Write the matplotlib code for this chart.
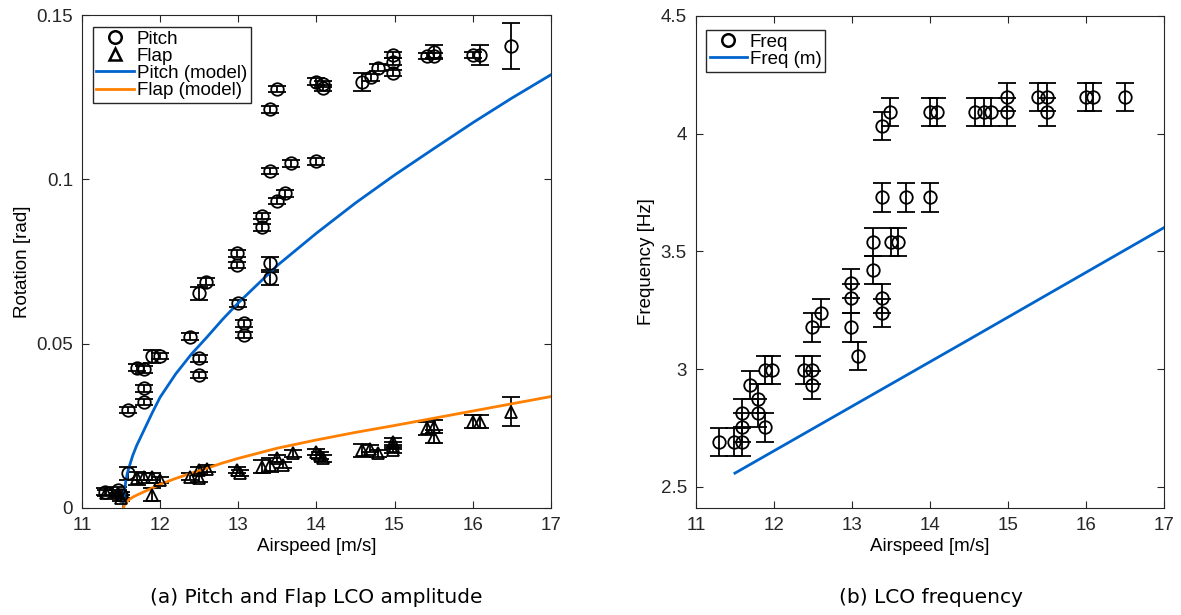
import matplotlib.pyplot as plt
from matplotlib.lines import Line2D
import numpy as np

# measured pitch amplitude (airspeed, rad, error)
pitch_speed = [11.30, 11.46, 11.50, 11.59, 11.59, 11.70, 11.80, 11.80, 11.80, 11.89, 12.00,
               12.38, 12.50, 12.59, 12.50, 12.50, 12.99, 12.99, 13.00, 13.08, 13.08,
               13.30, 13.30, 13.40, 13.40, 13.40, 13.40, 13.50, 13.50, 13.60, 13.68,
               14.00, 14.00, 14.09, 14.09, 14.58, 14.70, 14.79, 14.98, 14.98, 14.98,
               15.41, 15.50, 15.50, 16.00, 16.09, 16.49]
pitch_amp = [0.0050, 0.0055, 0.0040, 0.0106, 0.0298, 0.0427, 0.0422, 0.0364, 0.0323, 0.0462, 0.0462,
             0.0521, 0.0653, 0.0689, 0.0455, 0.0405, 0.0775, 0.0739, 0.0623, 0.0562, 0.0526,
             0.0888, 0.0854, 0.1025, 0.1213, 0.0744, 0.0699, 0.0934, 0.1275, 0.0957, 0.1049,
             0.1055, 0.1297, 0.1290, 0.1278, 0.1297, 0.1310, 0.1340, 0.1378, 0.1358, 0.1324,
             0.1375, 0.1388, 0.1375, 0.1378, 0.1378, 0.1405]
pitch_err = [0.001, 0.001, 0.001, 0.002, 0.001, 0.001, 0.001, 0.001, 0.001, 0.002, 0.001,
             0.001, 0.002, 0.001, 0.001, 0.001, 0.001, 0.001, 0.001, 0.001, 0.001,
             0.001, 0.001, 0.001, 0.001, 0.002, 0.002, 0.001, 0.001, 0.001, 0.001,
             0.001, 0.001, 0.001, 0.001, 0.0027, 0.001, 0.001, 0.001, 0.001, 0.001,
             0.001, 0.002, 0.001, 0.001, 0.003, 0.007]

# measured flap amplitude
flap_speed = [11.31, 11.46, 11.50, 11.70, 11.80, 11.89, 12.00, 11.89, 12.38, 12.50, 12.60, 12.50,
              12.98, 13.02, 13.30, 13.40, 13.49, 13.57, 13.70, 14.00, 14.09, 14.05,
              14.58, 14.69, 14.79, 14.98, 14.98, 14.98, 15.41, 15.50, 15.50, 16.00, 16.09, 16.49]
flap_amp = [0.0045, 0.0045, 0.0030, 0.0090, 0.0095, 0.0095, 0.0085, 0.0040, 0.0095, 0.0116, 0.0120, 0.0090,
            0.0116, 0.0106, 0.0126, 0.0131, 0.0151, 0.0131, 0.0166, 0.0171, 0.0151, 0.0160,
            0.0176, 0.0181, 0.0166, 0.0202, 0.0190, 0.0176, 0.0242, 0.0247, 0.0217, 0.0263, 0.0263, 0.0293]
flap_err = [0.001, 0.001, 0.001, 0.002, 0.001, 0.001, 0.001, 0.002, 0.001, 0.001, 0.001, 0.001,
            0.001, 0.001, 0.002, 0.002, 0.001, 0.001, 0.001, 0.001, 0.001, 0.001,
            0.002, 0.001, 0.001, 0.001, 0.001, 0.001, 0.002, 0.002, 0.002, 0.002, 0.002, 0.0045]

# model curves
model_speed = [11.53, 11.54, 11.56, 11.58, 11.60, 11.65, 11.70, 11.80, 11.90, 12.00,
               12.20, 12.40, 12.60, 12.80, 13.00, 13.50, 14.00, 14.50, 15.00, 15.50,
               16.00, 16.50, 17.00]
pitch_model = [0.0, 0.0045, 0.0080, 0.0105, 0.0122, 0.0160, 0.0190, 0.0240, 0.0290, 0.0337,
               0.0408, 0.0468, 0.0520, 0.0574, 0.0624, 0.0738, 0.0836, 0.0928, 0.1013, 0.1093,
               0.1172, 0.1247, 0.1318]
flap_model = [0.0, 0.0007, 0.0014, 0.0020, 0.0025, 0.0033, 0.0039, 0.0050, 0.0061, 0.0072,
              0.0090, 0.0106, 0.0121, 0.0137, 0.0151, 0.0182, 0.0207, 0.0230, 0.0251, 0.0273,
              0.0295, 0.0317, 0.0339]

# measured LCO frequency
freq_speed = [11.29, 11.49, 11.59, 11.59, 11.59, 11.69, 11.79, 11.79, 11.89, 11.88, 11.98,
              12.38, 12.49, 12.49, 12.49, 12.60, 12.99, 12.99, 12.99, 13.08,
              13.27, 13.27, 13.39, 13.39, 13.39, 13.39, 13.49, 13.50, 13.59, 13.69,
              14.00, 14.00, 14.09, 14.58, 14.69, 14.79, 14.99, 14.99, 15.39, 15.50, 15.50,
              16.00, 16.09, 16.50]
freq_val = [2.691, 2.691, 2.691, 2.752, 2.814, 2.932, 2.875, 2.814, 2.752, 2.996, 2.996,
            2.996, 2.996, 2.932, 3.177, 3.239, 3.364, 3.300, 3.177, 3.055,
            3.541, 3.420, 3.300, 3.239, 3.729, 4.032, 4.093, 3.541, 3.541, 3.729,
            3.729, 4.093, 4.093, 4.093, 4.093, 4.093, 4.157, 4.093, 4.157, 4.157, 4.093,
            4.157, 4.157, 4.157]
freq_err = 0.06

freq_model_speed = [11.5, 12.5, 13.5, 14.5, 15.5, 17.0]
freq_model = [2.558, 2.747, 2.936, 3.125, 3.315, 3.600]

plt.rcParams['font.family'] = ['Liberation Sans', 'DejaVu Sans']
blue = '#0064CC'
orange = '#FF8000'
spine_col = '#262626'

fig = plt.figure(figsize=(11.81, 6.15), dpi=100)
ax1 = fig.add_axes([0.0694, 0.174, 0.397, 0.8016])
ax2 = fig.add_axes([0.5893, 0.174, 0.396, 0.800])

eb = dict(fmt='o', mfc='none', mec='black', ecolor='black', color='black',
          markersize=9, mew=1.3, elinewidth=1.3, capsize=6.5, capthick=1.3)

ax1.errorbar(pitch_speed, pitch_amp, yerr=pitch_err, **eb)
eb_tri = dict(eb, fmt='^')
ax1.errorbar(flap_speed, flap_amp, yerr=flap_err, **eb_tri)
ax1.plot(model_speed, pitch_model, color=blue, lw=2)
ax1.plot(model_speed, flap_model, color=orange, lw=2)

ax2.errorbar(freq_speed, freq_val, yerr=freq_err, **eb)
ax2.plot(freq_model_speed, freq_model, color=blue, lw=2)

ax1.set_xlim(11, 17)
ax1.set_ylim(0, 0.15)
ax1.set_yticks([0, 0.05, 0.1, 0.15])
ax1.set_yticklabels(['0', '0.05', '0.1', '0.15'])
ax1.set_ylabel('Rotation [rad]', fontsize=13.5, labelpad=4)

ax2.set_xlim(11, 17)
ax2.set_ylim(2.41, 4.5)
ax2.set_yticks([2.5, 3, 3.5, 4, 4.5])
ax2.set_yticklabels(['2.5', '3', '3.5', '4', '4.5'])
ax2.set_ylabel('Frequency [Hz]', fontsize=13.5, labelpad=4)

for ax in (ax1, ax2):
    ax.set_xticks(range(11, 18))
    ax.set_xlabel('Airspeed [m/s]', fontsize=13.5, labelpad=3)
    ax.tick_params(direction='in', top=True, right=True, labelsize=13.5,
                   colors=spine_col, length=5, pad=6.5)
    for s in ax.spines.values():
        s.set_color(spine_col)
        s.set_linewidth(0.8)

mk = dict(color='black', ls='none', mfc='none', mew=1.8, markersize=9)
h1 = [Line2D([], [], marker='o', **mk), Line2D([], [], marker='^', **mk),
      Line2D([], [], color=blue, lw=2), Line2D([], [], color=orange, lw=2)]
ax1.legend(h1, ['Pitch', 'Flap', 'Pitch (model)', 'Flap (model)'],
           loc='upper left', bbox_to_anchor=(0.023, 0.976), fontsize=13.5,
           frameon=True, fancybox=False, edgecolor=spine_col, framealpha=1,
           borderpad=0.2, labelspacing=0.0, handlelength=2.0, handletextpad=0.15,
           borderaxespad=0)
h2 = [Line2D([], [], marker='o', **mk), Line2D([], [], color=blue, lw=2)]
ax2.legend(h2, ['Freq', 'Freq (m)'],
           loc='upper left', bbox_to_anchor=(0.021, 0.972), fontsize=13.5,
           frameon=True, fancybox=False, edgecolor=spine_col, framealpha=1,
           borderpad=0.2, labelspacing=0.0, handlelength=2.0, handletextpad=0.15,
           borderaxespad=0)

fig.text(0.268, 0.028, '(a) Pitch and Flap LCO amplitude', ha='center', va='center',
         fontsize=14.5, family='DejaVu Sans')
fig.text(0.788, 0.028, '(b) LCO frequency', ha='center', va='center',
         fontsize=14.5, family='DejaVu Sans')

fig.savefig('out.png', dpi=100)
